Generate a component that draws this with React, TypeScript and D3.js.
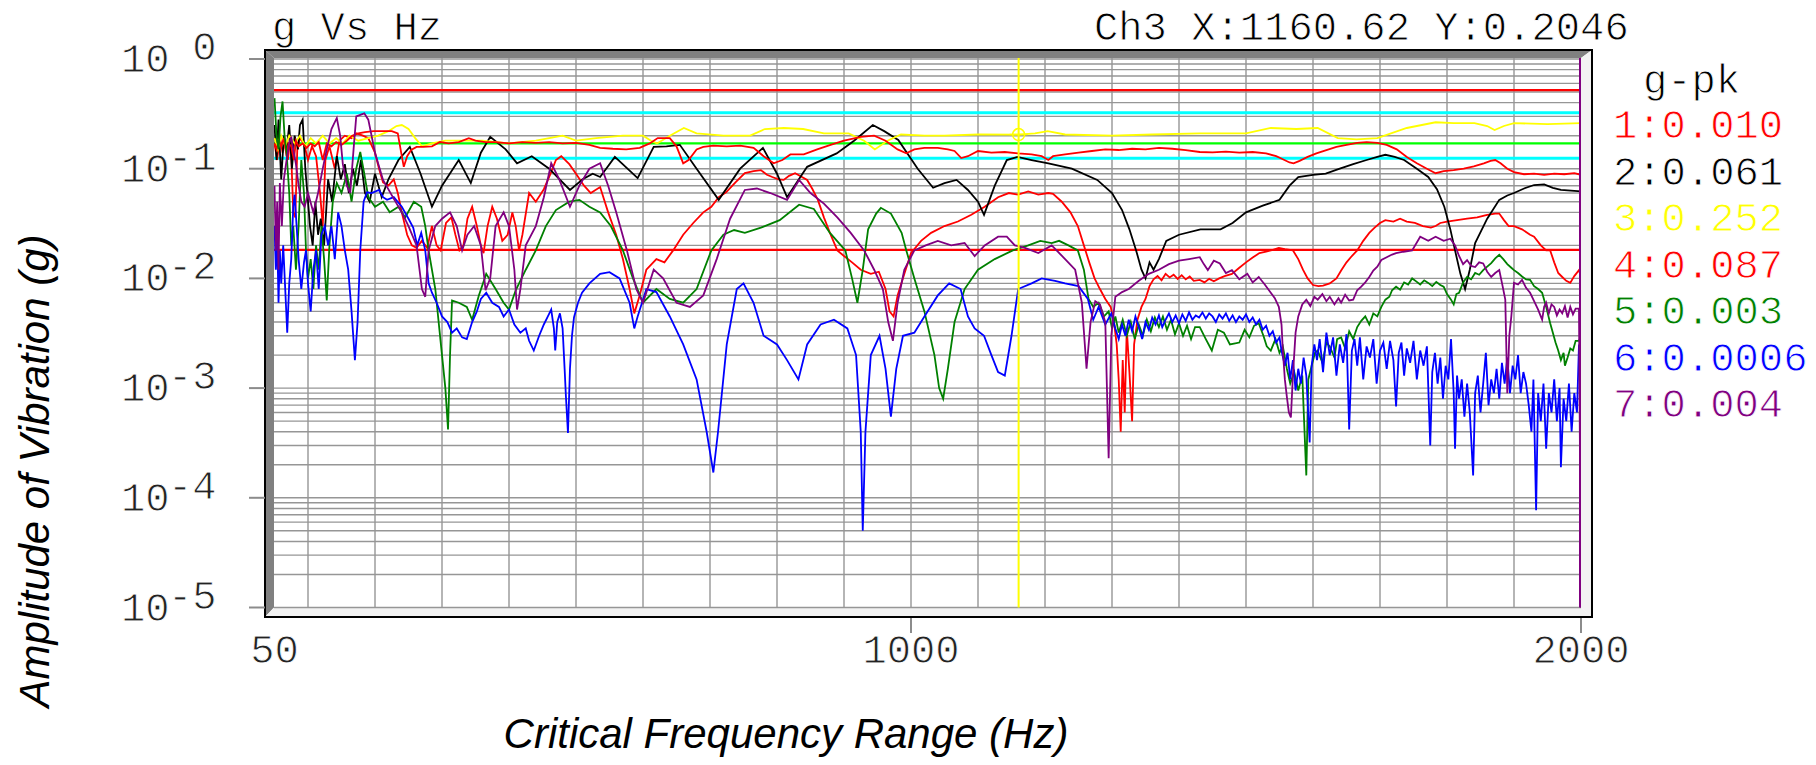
import React from "react";
import * as d3 from "d3";

type Pt = [number, number];

// control limits and reference profile (g)
const limitValues = [0.52, 0.324, 0.1705, 0.1244, 0.0182];
const limitColors = ["#ff0000", "#00ffff", "#00ff00", "#00ffff", "#ff0000"];

const decades = [0, -1, -2, -3, -4, -5];
const xTicks = [50, 1000, 2000];
const gridHz = [100, 200, 300, 400, 500, 600, 700, 800, 900, 1000, 1100, 1200, 1300, 1400, 1500, 1600, 1700, 1800, 1900];

const legendLabels = ["1:0.010", "2:0.061", "3:0.252", "4:0.087", "5:0.003", "6:0.0006", "7:0.004"];
const seriesColors = ["#ff0000", "#000000", "#ffff00", "#ff0000", "#008000", "#0000ff", "#800080"];

const cursorHz = 1160.62;
const cursorG = 0.2046;

// ch1 (red, low)
const ch1: Pt[] = [[50,0.17],[54,0.12],[58,0.2],[62,0.14],[66,0.18],[70,0.12],[74,0.2],[78,0.04],[81,0.036],[84,0.15],[88,0.19],[94,0.17],[100,0.12],[106,0.16],[112,0.13],[118,0.06],[122,0.03],[126,0.12],[132,0.16],[140,0.1],[147,0.18],[155,0.2],[165,0.19],[172,0.21],[182,0.2],[190,0.19],[200,0.14],[206,0.1],[212,0.075],[220,0.07],[228,0.08],[234,0.06],[240,0.04],[248,0.025],[255,0.02],[262,0.019],[270,0.022],[278,0.019],[285,0.03],[292,0.02],[298,0.018],[306,0.032],[314,0.036],[320,0.025],[326,0.018],[332,0.02],[338,0.035],[345,0.045],[352,0.03],[358,0.02],[362,0.017],[368,0.03],[375,0.045],[382,0.035],[390,0.022],[398,0.025],[405,0.04],[410,0.03],[415,0.018],[420,0.025],[430,0.06],[440,0.05],[452,0.065],[462,0.09],[470,0.12],[478,0.13],[490,0.11],[500,0.09],[512,0.07],[522,0.06],[536,0.068],[548,0.04],[560,0.025],[570,0.015],[580,0.008],[587,0.0048],[595,0.007],[605,0.012],[620,0.015],[632,0.014],[645,0.018],[660,0.025],[675,0.032],[690,0.04],[702,0.045],[713,0.055],[724,0.061],[738,0.075],[752,0.091],[765,0.095],[776,0.097],[785,0.088],[793,0.084],[802,0.08],[810,0.079],[818,0.086],[827,0.091],[836,0.085],[845,0.079],[853,0.065],[861,0.052],[870,0.036],[879,0.026],[890,0.018],[900,0.016],[912,0.014],[925,0.012],[940,0.011],[952,0.0115],[962,0.008],[968,0.005],[974,0.0045],[980,0.007],[990,0.011],[1000,0.017],[1015,0.022],[1030,0.026],[1050,0.03],[1070,0.033],[1090,0.038],[1110,0.045],[1130,0.055],[1146,0.06],[1160,0.058],[1175,0.062],[1190,0.058],[1205,0.06],[1212,0.059],[1225,0.05],[1238,0.04],[1249,0.03],[1258,0.02],[1266,0.014],[1274,0.01],[1282,0.008],[1290,0.0065],[1298,0.0055],[1303,0.004],[1307,0.0025],[1310,0.0012],[1313,0.0004],[1316,0.0018],[1319,0.0006],[1322,0.0035],[1326,0.0014],[1330,0.0005],[1333,0.0025],[1338,0.0042],[1344,0.0055],[1350,0.0065],[1356,0.0085],[1362,0.0098],[1368,0.0105],[1374,0.0096],[1380,0.011],[1386,0.0102],[1392,0.0108],[1398,0.0099],[1404,0.0107],[1410,0.0098],[1416,0.0104],[1422,0.0095],[1431,0.0097],[1438,0.0092],[1445,0.0099],[1452,0.0094],[1460,0.01],[1468,0.0105],[1479,0.011],[1490,0.0125],[1500,0.014],[1510,0.0155],[1520,0.017],[1530,0.0175],[1540,0.0182],[1549,0.019],[1558,0.0185],[1570,0.018],[1578,0.015],[1585,0.012],[1592,0.01],[1600,0.0087],[1608,0.0085],[1615,0.0086],[1625,0.009],[1635,0.01],[1642,0.0118],[1650,0.014],[1658,0.016],[1666,0.018],[1675,0.022],[1684,0.026],[1692,0.029],[1700,0.032],[1708,0.034],[1720,0.033],[1730,0.035],[1740,0.033],[1752,0.032],[1764,0.03],[1776,0.029],[1783,0.03],[1790,0.032],[1800,0.033],[1815,0.034],[1830,0.035],[1845,0.036],[1860,0.038],[1872,0.039],[1878,0.039],[1885,0.034],[1892,0.03],[1900,0.03],[1912,0.028],[1924,0.025],[1930,0.024],[1940,0.02],[1948,0.018],[1954,0.018],[1960,0.014],[1966,0.0112],[1972,0.0103],[1978,0.0095],[1984,0.0091],[1990,0.0105],[1997,0.0119],[2000,0.0105]];

// ch2 (black)
const ch2: Pt[] = [[50,0.25],[53,0.12],[56,0.28],[60,0.08],[64,0.2],[68,0.15],[72,0.25],[76,0.1],[80,0.2],[85,0.15],[88,0.25],[92,0.28],[96,0.1],[99,0.06],[103,0.03],[107,0.02],[111,0.05],[115,0.025],[119,0.035],[124,0.02],[130,0.08],[136,0.05],[143,0.13],[149,0.08],[155,0.11],[161,0.06],[167,0.1],[173,0.07],[179,0.12],[185,0.06],[192,0.05],[200,0.09],[210,0.055],[220,0.08],[235,0.12],[252,0.158],[268,0.09],[285,0.045],[300,0.07],[325,0.12],[343,0.074],[358,0.14],[372,0.195],[395,0.15],[412,0.112],[434,0.13],[460,0.1],[491,0.064],[510,0.08],[525,0.09],[536,0.084],[558,0.128],[592,0.082],[616,0.158],[635,0.16],[655,0.165],[680,0.1],[713,0.052],[745,0.1],[779,0.155],[800,0.09],[815,0.055],[845,0.104],[889,0.138],[915,0.18],[943,0.25],[960,0.22],[981,0.183],[1010,0.1],[1033,0.067],[1050,0.074],[1068,0.079],[1085,0.064],[1100,0.05],[1109,0.038],[1125,0.07],[1143,0.12],[1159,0.128],[1180,0.12],[1205,0.112],[1240,0.1],[1278,0.079],[1300,0.06],[1315,0.042],[1326,0.028],[1336,0.018],[1344,0.012],[1350,0.01],[1356,0.014],[1362,0.012],[1370,0.015],[1381,0.022],[1400,0.025],[1432,0.028],[1462,0.028],[1480,0.032],[1500,0.04],[1525,0.046],[1550,0.052],[1565,0.07],[1578,0.084],[1600,0.088],[1619,0.09],[1640,0.1],[1660,0.11],[1680,0.12],[1696,0.128],[1708,0.134],[1722,0.128],[1736,0.12],[1755,0.1],[1772,0.084],[1785,0.065],[1796,0.045],[1805,0.028],[1812,0.018],[1820,0.011],[1827,0.008],[1834,0.012],[1842,0.021],[1860,0.035],[1878,0.052],[1890,0.057],[1900,0.06],[1915,0.066],[1930,0.071],[1945,0.072],[1958,0.067],[1970,0.064],[1985,0.063],[2000,0.062]];

// ch3 (yellow, control)
const ch3: Pt[] = [[50,0.19],[55,0.15],[60,0.2],[66,0.16],[72,0.2],[80,0.17],[88,0.2],[96,0.16],[104,0.19],[112,0.17],[122,0.2],[132,0.17],[142,0.19],[152,0.17],[162,0.2],[175,0.18],[190,0.19],[205,0.2],[220,0.22],[232,0.245],[240,0.25],[250,0.23],[260,0.19],[270,0.16],[285,0.17],[305,0.18],[330,0.18],[360,0.18],[400,0.17],[440,0.18],[480,0.2],[500,0.18],[530,0.19],[570,0.2],[600,0.2],[612,0.18],[621,0.17],[640,0.2],[661,0.235],[680,0.21],[720,0.2],[760,0.2],[782,0.23],[810,0.235],[839,0.23],[870,0.21],[907,0.21],[930,0.18],[946,0.15],[965,0.18],[985,0.205],[1020,0.2],[1050,0.2],[1100,0.205],[1160,0.2046],[1185,0.21],[1204,0.22],[1230,0.205],[1300,0.2],[1360,0.205],[1431,0.21],[1500,0.21],[1537,0.235],[1575,0.23],[1607,0.235],[1637,0.19],[1665,0.185],[1696,0.19],[1740,0.235],[1783,0.265],[1810,0.26],[1841,0.26],[1860,0.245],[1871,0.225],[1885,0.245],[1900,0.26],[1950,0.255],[2000,0.26]];

// ch4 (red, near profile)
const ch4: Pt[] = [[50,0.17],[53,0.15],[56,0.18],[60,0.16],[64,0.19],[68,0.13],[71,0.17],[75,0.16],[79,0.12],[82,0.18],[86,0.16],[92,0.17],[98,0.155],[104,0.17],[110,0.16],[116,0.175],[122,0.12],[128,0.17],[135,0.16],[142,0.175],[150,0.165],[158,0.18],[166,0.2],[175,0.21],[185,0.215],[198,0.22],[212,0.22],[225,0.22],[234,0.21],[240,0.13],[243,0.104],[248,0.13],[254,0.148],[262,0.158],[272,0.158],[285,0.16],[297,0.175],[310,0.17],[325,0.175],[340,0.19],[350,0.18],[365,0.175],[380,0.175],[400,0.17],[420,0.175],[440,0.172],[460,0.175],[480,0.17],[500,0.172],[520,0.165],[536,0.155],[555,0.152],[575,0.15],[595,0.155],[610,0.17],[622,0.19],[640,0.19],[650,0.16],[660,0.112],[668,0.12],[680,0.15],[690,0.158],[705,0.162],[725,0.16],[745,0.162],[765,0.155],[780,0.13],[795,0.112],[808,0.12],[820,0.135],[840,0.135],[860,0.15],[880,0.165],[900,0.18],[925,0.195],[945,0.2],[962,0.18],[980,0.15],[993,0.138],[1005,0.15],[1020,0.155],[1040,0.155],[1055,0.15],[1065,0.145],[1075,0.125],[1085,0.13],[1100,0.145],[1120,0.14],[1140,0.142],[1160,0.138],[1180,0.135],[1195,0.13],[1205,0.12],[1212,0.13],[1230,0.135],[1250,0.14],[1270,0.145],[1290,0.15],[1310,0.148],[1330,0.152],[1350,0.15],[1370,0.155],[1390,0.152],[1410,0.148],[1431,0.142],[1450,0.141],[1470,0.143],[1490,0.14],[1510,0.142],[1530,0.138],[1545,0.13],[1555,0.122],[1565,0.114],[1571,0.112],[1580,0.118],[1592,0.128],[1605,0.138],[1620,0.148],[1635,0.158],[1650,0.165],[1666,0.172],[1680,0.175],[1696,0.172],[1710,0.165],[1725,0.15],[1740,0.128],[1755,0.112],[1770,0.1],[1783,0.091],[1795,0.095],[1810,0.097],[1825,0.1],[1840,0.105],[1855,0.112],[1865,0.118],[1872,0.12],[1880,0.112],[1890,0.1],[1900,0.093],[1915,0.089],[1930,0.09],[1945,0.088],[1960,0.09],[1975,0.089],[1990,0.091],[2000,0.088]];

// ch5 (green)
const ch5: Pt[] = [[50,0.44],[53,0.2],[56,0.15],[59,0.3],[62,0.41],[65,0.2],[68,0.14],[72,0.06],[75,0.02],[78,0.03],[82,0.012],[86,0.03],[90,0.12],[94,0.06],[97,0.018],[100,0.01],[104,0.015],[108,0.008],[112,0.02],[116,0.012],[120,0.03],[124,0.015],[128,0.0063],[132,0.02],[137,0.05],[143,0.074],[150,0.06],[158,0.09],[165,0.05],[172,0.1],[178,0.142],[184,0.09],[190,0.055],[200,0.045],[212,0.05],[222,0.04],[235,0.045],[245,0.036],[258,0.05],[269,0.045],[275,0.03],[280,0.018],[290,0.008],[300,0.002],[305,0.001],[309,0.00042],[312,0.002],[315,0.0063],[325,0.006],[337,0.0055],[345,0.0042],[355,0.007],[366,0.011],[380,0.008],[392,0.006],[400,0.0052],[410,0.0078],[425,0.012],[440,0.018],[455,0.03],[470,0.042],[490,0.05],[505,0.052],[520,0.045],[536,0.04],[552,0.03],[570,0.018],[585,0.01],[600,0.006],[620,0.008],[640,0.0065],[660,0.006],[680,0.008],[702,0.018],[720,0.025],[736,0.0276],[752,0.026],[776,0.029],[804,0.034],[833,0.047],[855,0.043],[879,0.026],[902,0.018],[912,0.01],[920,0.006],[928,0.012],[936,0.028],[948,0.039],[955,0.044],[970,0.039],[986,0.026],[993,0.018],[1005,0.01],[1020,0.005],[1035,0.002],[1042,0.001],[1048,0.0008],[1055,0.0015],[1065,0.004],[1080,0.008],[1100,0.012],[1125,0.015],[1152,0.018],[1175,0.02],[1193,0.022],[1210,0.021],[1221,0.022],[1235,0.02],[1249,0.018],[1258,0.012],[1265,0.0065],[1272,0.0055],[1280,0.006],[1288,0.0045],[1295,0.005],[1300,0.0035],[1305,0.0045],[1310,0.0032],[1316,0.0042],[1322,0.003],[1328,0.004],[1334,0.0028],[1340,0.0038],[1346,0.003],[1352,0.0042],[1358,0.0033],[1364,0.0044],[1370,0.0036],[1376,0.0045],[1382,0.0034],[1388,0.0042],[1394,0.0031],[1400,0.0039],[1406,0.003],[1412,0.0037],[1418,0.0028],[1424,0.0036],[1431,0.0036],[1440,0.0028],[1449,0.0022],[1458,0.0034],[1467,0.0032],[1476,0.0025],[1490,0.0026],[1498,0.0034],[1505,0.0029],[1512,0.0037],[1519,0.0039],[1526,0.003],[1531,0.0024],[1537,0.0022],[1544,0.0028],[1550,0.0021],[1555,0.0024],[1561,0.0015],[1566,0.0011],[1572,0.0014],[1578,0.00095],[1584,0.0013],[1590,0.00016],[1593,0.0012],[1598,0.0016],[1603,0.0021],[1607,0.0022],[1614,0.0017],[1620,0.0026],[1625,0.0024],[1632,0.0019],[1636,0.0028],[1642,0.0029],[1648,0.0023],[1654,0.0033],[1660,0.0028],[1666,0.0036],[1672,0.0041],[1678,0.0045],[1684,0.0038],[1690,0.0048],[1696,0.0045],[1702,0.0055],[1708,0.0064],[1714,0.0068],[1718,0.0078],[1724,0.0084],[1730,0.0079],[1736,0.0092],[1742,0.0088],[1748,0.01],[1754,0.0094],[1760,0.0088],[1766,0.0096],[1772,0.0091],[1778,0.0085],[1784,0.0093],[1790,0.0087],[1795,0.0084],[1800,0.0072],[1806,0.0064],[1810,0.0058],[1814,0.0072],[1818,0.0074],[1824,0.0092],[1830,0.0103],[1836,0.0098],[1842,0.0112],[1848,0.0108],[1854,0.0119],[1860,0.0128],[1866,0.0138],[1872,0.0152],[1878,0.0164],[1884,0.015],[1890,0.0135],[1896,0.0125],[1900,0.0119],[1906,0.0112],[1912,0.0104],[1918,0.0098],[1924,0.0097],[1930,0.0085],[1936,0.008],[1942,0.0074],[1948,0.0055],[1954,0.0039],[1958,0.0032],[1962,0.0026],[1966,0.0022],[1970,0.0018],[1974,0.0021],[1976,0.0016],[1980,0.0019],[1984,0.0023],[1988,0.0022],[1992,0.0027],[1997,0.0027],[2000,0.003]];

// ch6 (blue)
const ch6: Pt[] = [[50,0.03],[52,0.012],[54,0.025],[56,0.006],[58,0.018],[60,0.009],[63,0.02],[66,0.008],[69,0.0032],[72,0.009],[75,0.015],[78,0.045],[80,0.058],[83,0.03],[86,0.015],[90,0.008],[94,0.014],[97,0.018],[100,0.009],[104,0.005],[108,0.012],[112,0.018],[116,0.008],[120,0.025],[125,0.03],[130,0.02],[135,0.03],[140,0.015],[145,0.04],[150,0.03],[155,0.018],[160,0.012],[165,0.005],[170,0.0018],[174,0.004],[178,0.018],[183,0.05],[188,0.061],[195,0.06],[206,0.064],[212,0.055],[218,0.052],[228,0.055],[240,0.045],[250,0.035],[257,0.029],[263,0.02],[269,0.026],[275,0.018],[280,0.009],[285,0.0074],[292,0.006],[300,0.0045],[308,0.004],[315,0.0032],[322,0.0035],[330,0.0029],[337,0.0028],[345,0.004],[352,0.005],[358,0.0065],[366,0.0074],[375,0.006],[385,0.0055],[392,0.0045],[400,0.0052],[408,0.0038],[417,0.0032],[425,0.0035],[430,0.0027],[437,0.0022],[445,0.003],[452,0.0038],[458,0.0045],[463,0.0052],[467,0.0035],[469,0.0022],[472,0.004],[476,0.0048],[480,0.0035],[483,0.0015],[485,0.00083],[488,0.00039],[491,0.0015],[494,0.003],[497,0.0044],[503,0.006],[509,0.0074],[520,0.009],[536,0.011],[550,0.0114],[565,0.01],[580,0.006],[587,0.0035],[592,0.0045],[605,0.008],[620,0.0075],[640,0.0045],[660,0.0025],[680,0.0012],[695,0.0004],[705,0.00017],[712,0.0004],[725,0.0025],[740,0.008],[750,0.009],[765,0.006],[780,0.003],[800,0.0025],[815,0.0018],[832,0.0012],[845,0.0025],[865,0.0038],[885,0.0042],[905,0.0035],[918,0.002],[925,0.0004],[928,0.00005],[932,0.0004],[940,0.002],[953,0.003],[962,0.0015],[970,0.00055],[978,0.0015],[988,0.003],[1005,0.0032],[1020,0.0045],[1040,0.007],[1057,0.009],[1074,0.008],[1085,0.0045],[1095,0.0035],[1109,0.003],[1120,0.002],[1130,0.0014],[1140,0.0013],[1150,0.003],[1160,0.008],[1180,0.009],[1195,0.01],[1215,0.0095],[1230,0.009],[1250,0.0085],[1264,0.0065],[1272,0.0042],[1280,0.0055],[1290,0.0038],[1299,0.0048],[1305,0.0035],[1310,0.0028],[1315,0.0038],[1320,0.003],[1325,0.0042],[1330,0.0033],[1335,0.0045],[1340,0.0036],[1345,0.0028],[1350,0.004],[1355,0.0034],[1360,0.0044],[1365,0.0038],[1370,0.0046],[1375,0.0036],[1380,0.0042],[1385,0.0048],[1390,0.004],[1395,0.0046],[1400,0.0039],[1405,0.0047],[1410,0.0041],[1415,0.0049],[1420,0.0042],[1425,0.0046],[1430,0.0044],[1435,0.0049],[1440,0.0043],[1445,0.0048],[1450,0.0045],[1455,0.004],[1460,0.0047],[1465,0.0043],[1470,0.0048],[1475,0.0041],[1480,0.0046],[1485,0.004],[1490,0.0045],[1495,0.0042],[1500,0.0047],[1505,0.004],[1510,0.0044],[1515,0.0038],[1520,0.0042],[1525,0.0034],[1530,0.0037],[1535,0.003],[1540,0.0033],[1545,0.0026],[1550,0.0029],[1553,0.0022],[1558,0.0016],[1562,0.0021],[1566,0.0012],[1570,0.0018],[1574,0.00095],[1578,0.0015],[1582,0.0011],[1586,0.0019],[1590,0.0013],[1595,0.00032],[1598,0.0016],[1602,0.0025],[1606,0.0018],[1610,0.0028],[1615,0.0014],[1620,0.0032],[1625,0.002],[1630,0.0029],[1635,0.0013],[1640,0.0025],[1645,0.0017],[1650,0.0031],[1654,0.00042],[1658,0.0022],[1662,0.0028],[1666,0.0016],[1670,0.0029],[1675,0.0012],[1680,0.0024],[1685,0.0019],[1690,0.0028],[1695,0.0011],[1700,0.0022],[1705,0.0026],[1710,0.0015],[1715,0.0027],[1720,0.0018],[1724,0.00068],[1728,0.0021],[1732,0.0026],[1736,0.0013],[1740,0.0023],[1745,0.0017],[1750,0.0027],[1755,0.0012],[1760,0.0022],[1765,0.0016],[1770,0.0024],[1775,0.0003],[1778,0.0014],[1782,0.0021],[1786,0.0011],[1790,0.0019],[1794,0.0008],[1798,0.0016],[1802,0.0012],[1806,0.0028],[1810,0.0009],[1812,0.00028],[1815,0.0013],[1818,0.0008],[1822,0.0012],[1826,0.00055],[1830,0.0011],[1834,0.0006],[1839,0.00016],[1842,0.0009],[1846,0.0013],[1850,0.0006],[1854,0.0011],[1858,0.0021],[1862,0.0007],[1866,0.0012],[1870,0.0009],[1874,0.0015],[1878,0.0008],[1882,0.0017],[1886,0.0011],[1890,0.0019],[1894,0.0009],[1898,0.0016],[1902,0.0012],[1906,0.002],[1910,0.0009],[1914,0.0014],[1918,0.0011],[1922,0.0007],[1926,0.0004],[1929,0.0012],[1933,0.000077],[1936,0.0009],[1940,0.0005],[1944,0.0011],[1948,0.00028],[1952,0.0009],[1956,0.0006],[1960,0.0012],[1964,0.0005],[1968,0.001],[1970,0.00019],[1974,0.0008],[1978,0.0005],[1982,0.0011],[1986,0.0004],[1990,0.0009],[1994,0.0006],[1997,0.0025],[2000,0.0006]];

// ch7 (purple)
const ch7: Pt[] = [[50,0.07],[52,0.018],[54,0.05],[56,0.012],[58,0.074],[61,0.03],[64,0.08],[68,0.12],[72,0.17],[75,0.195],[78,0.15],[82,0.11],[86,0.07],[90,0.05],[95,0.045],[100,0.06],[108,0.04],[115,0.06],[122,0.1],[128,0.15],[135,0.23],[143,0.29],[148,0.2],[152,0.11],[158,0.07],[163,0.06],[168,0.15],[172,0.3],[178,0.31],[184,0.32],[190,0.28],[200,0.14],[212,0.079],[229,0.052],[240,0.04],[250,0.03],[262,0.02],[270,0.008],[275,0.0068],[280,0.018],[290,0.03],[300,0.035],[312,0.04],[322,0.03],[330,0.018],[338,0.025],[348,0.03],[358,0.02],[365,0.0078],[372,0.01],[380,0.03],[392,0.04],[400,0.03],[408,0.012],[412,0.0052],[417,0.008],[425,0.02],[440,0.03],[452,0.055],[463,0.112],[475,0.08],[491,0.045],[505,0.07],[520,0.1],[536,0.112],[548,0.07],[560,0.04],[576,0.018],[590,0.008],[600,0.006],[616,0.012],[630,0.01],[650,0.006],[670,0.0055],[690,0.007],[710,0.015],[730,0.035],[752,0.064],[770,0.066],[790,0.06],[815,0.052],[833,0.079],[850,0.06],[870,0.048],[890,0.036],[910,0.026],[930,0.018],[945,0.012],[958,0.008],[966,0.004],[973,0.0027],[980,0.006],[990,0.012],[1005,0.018],[1022,0.02],[1040,0.022],[1060,0.02],[1080,0.021],[1095,0.016],[1110,0.02],[1130,0.024],[1143,0.024],[1155,0.02],[1170,0.019],[1190,0.017],[1210,0.02],[1230,0.015],[1245,0.012],[1255,0.006],[1262,0.0015],[1268,0.004],[1275,0.0062],[1282,0.0058],[1290,0.004],[1295,0.00023],[1299,0.003],[1305,0.0068],[1315,0.0075],[1325,0.008],[1340,0.0095],[1355,0.011],[1370,0.012],[1385,0.0135],[1400,0.0145],[1415,0.015],[1431,0.0156],[1437,0.0135],[1443,0.0119],[1452,0.0145],[1461,0.0137],[1470,0.0112],[1479,0.0119],[1490,0.0098],[1502,0.011],[1510,0.0092],[1519,0.0103],[1528,0.0088],[1537,0.0074],[1543,0.0066],[1549,0.0055],[1553,0.0038],[1555,0.0022],[1558,0.0012],[1561,0.00083],[1564,0.0006],[1567,0.00054],[1570,0.0013],[1574,0.0032],[1578,0.0045],[1584,0.0058],[1590,0.0064],[1596,0.0056],[1602,0.0068],[1607,0.0064],[1614,0.0072],[1620,0.0062],[1625,0.0068],[1632,0.0058],[1638,0.0066],[1642,0.006],[1648,0.0071],[1654,0.0063],[1660,0.0064],[1666,0.0078],[1672,0.0084],[1678,0.0092],[1684,0.0103],[1690,0.0118],[1696,0.0128],[1702,0.0147],[1710,0.0156],[1718,0.0165],[1724,0.017],[1735,0.0175],[1748,0.018],[1760,0.024],[1772,0.022],[1783,0.024],[1795,0.022],[1805,0.023],[1812,0.02],[1818,0.016],[1824,0.0135],[1830,0.0147],[1836,0.013],[1842,0.0127],[1848,0.014],[1854,0.0137],[1860,0.0115],[1866,0.0103],[1872,0.0112],[1878,0.0119],[1883,0.0085],[1887,0.0064],[1890,0.0009],[1893,0.003],[1896,0.0045],[1900,0.0091],[1906,0.0088],[1912,0.0097],[1918,0.0082],[1924,0.0074],[1930,0.0062],[1936,0.0052],[1940,0.0045],[1942,0.0042],[1945,0.0055],[1948,0.006],[1952,0.0048],[1956,0.0058],[1960,0.0055],[1964,0.0046],[1968,0.0052],[1972,0.0048],[1976,0.0056],[1980,0.0044],[1984,0.0055],[1988,0.0047],[1992,0.0053],[1997,0.0053],[2000,0.00001]];

const allSeries = [ch1, ch2, ch3, ch4, ch5, ch6, ch7];

const W = 1816;
const H = 765;
const MONO = "'Liberation Mono', 'Courier New', monospace";
const SANS = "'Liberation Sans', Arial, sans-serif";

// thin out the mono glyphs a little, the original is a light courier
const thin = { stroke: "#fff", strokeWidth: 0.9 };

export default function App() {
  const left = 274.5, right = 1581, top = 59, bottom = 607.5;
  const x = d3.scaleLinear().domain([50, 2000]).range([left, right]);
  const y = d3.scaleLog().domain([1e-5, 1]).range([bottom, top]);
  const line = d3.line<Pt>().x(d => x(d[0])).y(d => y(d[1]));

  // log minor gridlines 1..9 x 10^e
  const hGrid: number[] = [];
  for (let e = -5; e < 0; e++) {
    for (let k = 1; k < 10; k++) hGrid.push(k * Math.pow(10, e));
  }
  hGrid.push(1);

  const fx0 = 265, fy0 = 50, fx1 = 1592, fy1 = 617;
  const ix0 = 274, iy0 = 58, ix1 = right, iy1 = bottom;

  return (
    <svg width={W} height={H} style={{ position: "absolute", left: 0, top: 0, background: "#fff" }}>
      <defs>
        <clipPath id="plotClip">
          <rect x={ix0} y={iy0} width={ix1 - ix0} height={iy1 - iy0 + 1} />
        </clipPath>
      </defs>

      {/* bevelled frame */}
      <polygon points={`${fx0},${fy0} ${fx1},${fy0} ${ix1},${iy0} ${ix0},${iy0}`} fill="#808080" />
      <polygon points={`${fx0},${fy0} ${ix0},${iy0} ${ix0},${iy1} ${fx0},${fy1}`} fill="#808080" />
      <polygon points={`${fx1},${fy0} ${fx1},${fy1} ${ix1},${iy1} ${ix1},${iy0}`} fill="#f2f2f2" />
      <polygon points={`${fx0},${fy1} ${fx1},${fy1} ${ix1},${iy1} ${ix0},${iy1}`} fill="#f2f2f2" />
      <rect x={fx0} y={fy0} width={fx1 - fx0} height={fy1 - fy0} fill="none" stroke="#000" strokeWidth={2} />
      <rect x={ix0} y={iy0} width={ix1 - ix0} height={iy1 - iy0} fill="#fff" />

      {/* grid */}
      <g stroke="#969696" strokeWidth={1.4}>
        {hGrid.map((v, i) => (
          <line key={"h" + i} x1={ix0} x2={ix1} y1={y(v)} y2={y(v)} />
        ))}
        {gridHz.map(f => (
          <line key={"v" + f} x1={x(f)} x2={x(f)} y1={iy0} y2={iy1} />
        ))}
      </g>

      {/* decade ticks */}
      <g stroke="#8c8c8c" strokeWidth={2}>
        {decades.map(d => (
          <line key={"yt" + d} x1={249} x2={fx0} y1={y(Math.pow(10, d))} y2={y(Math.pow(10, d))} />
        ))}
        {xTicks.filter(f => f !== 50).map(f => (
          <line key={"xt" + f} x1={x(f)} x2={x(f)} y1={fy1 + 1} y2={fy1 + 16} />
        ))}
      </g>

      <g clipPath="url(#plotClip)">
        {/* limit / reference lines */}
        {limitValues.map((v, i) => (
          <line key={"lim" + i} x1={ix0} x2={ix1} y1={y(v)} y2={y(v)} stroke={limitColors[i]} strokeWidth={i === 1 || i === 3 ? 3 : 2.2} />
        ))}
        {allSeries.map((s, i) => (
          <path key={"s" + i} d={line(s) || ""} fill="none" stroke={seriesColors[i]} strokeWidth={1.8} strokeLinejoin="miter" />
        ))}
        <line x1={x(2000) - 1} x2={x(2000) - 1} y1={iy0} y2={iy1} stroke="#800080" strokeWidth={2} />
        {/* cursor */}
        <line x1={x(cursorHz)} x2={x(cursorHz)} y1={iy0} y2={iy1} stroke="#ffff00" strokeWidth={2} />
        <circle cx={x(cursorHz)} cy={y(cursorG)} r={6} fill="none" stroke="#ffff00" strokeWidth={1.5} />
        <line x1={x(cursorHz) - 9} x2={x(cursorHz) + 9} y1={y(cursorG)} y2={y(cursorG)} stroke="#ffff00" strokeWidth={1.5} />
      </g>

      {/* titles */}
      <g fontFamily={MONO} fontSize={40.5} fill="#000" {...thin}>
        <text x={272} y={40}>g Vs Hz</text>
        <text x={1094} y={40}>Ch3 X:1160.62 Y:0.2046</text>
      </g>

      {/* y tick labels */}
      {decades.map(d => (
        <g key={"yl" + d} fontFamily={MONO} fontSize={40.5} fill="#222" {...thin}>
          <text x={121} y={y(Math.pow(10, d)) + 13}>10</text>
          <text x={168 + (d === 0 ? 24.3 : 0)} y={y(Math.pow(10, d)) + 1}>{d === 0 ? "0" : String(d)}</text>
        </g>
      ))}

      {/* x tick labels */}
      {xTicks.map(f => (
        <text key={"xl" + f} x={x(f)} y={663} textAnchor="middle" fontFamily={MONO} fontSize={40.5} fill="#222" {...thin}>{f}</text>
      ))}

      {/* legend */}
      <text x={1643} y={93} fontFamily={MONO} fontSize={40.5} fill="#000" {...thin}>g-pk</text>
      {legendLabels.map((t, i) => (
        <text key={"lg" + i} x={1613} y={138 + i * 46.5} fontFamily={MONO} fontSize={40.5} fill={seriesColors[i]} {...thin}>{t}</text>
      ))}

      {/* axis titles */}
      <text x={786} y={748} textAnchor="middle" fontFamily={SANS} fontStyle="italic" fontSize={42} fill="#000">Critical Frequency Range (Hz)</text>
      <text transform={`translate(49,471) rotate(-90)`} textAnchor="middle" fontFamily={SANS} fontStyle="italic" fontSize={42} fill="#000">Amplitude of Vibration (g)</text>
    </svg>
  );
}
